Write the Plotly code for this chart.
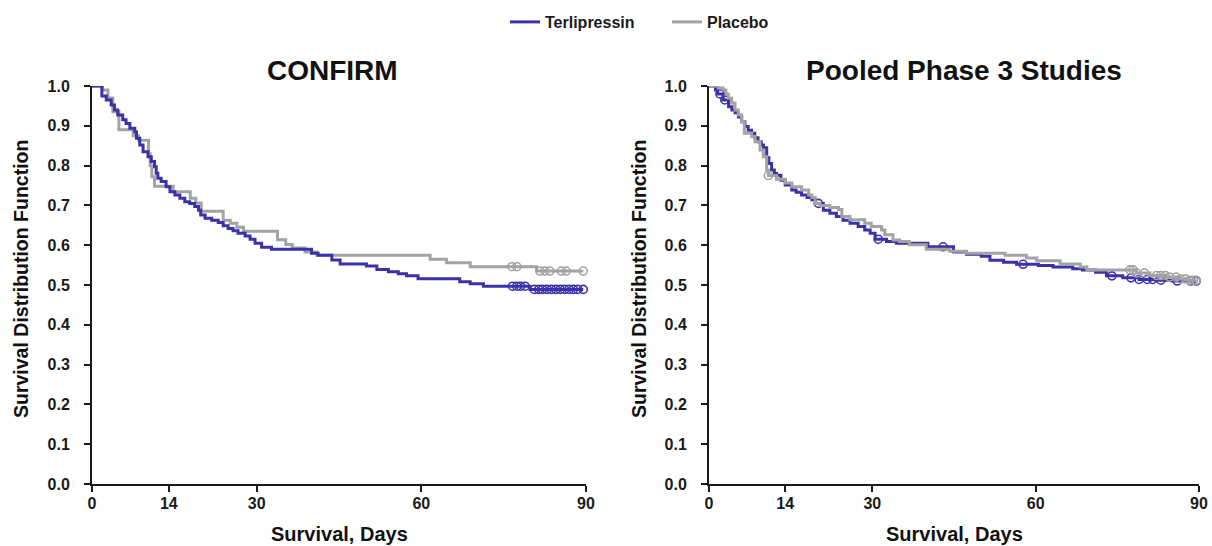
import numpy as np
import plotly.graph_objects as go

# ---------------- data ----------------
x_ticks = [0, 14, 30, 60, 90]
y_ticks = [0.0, 0.1, 0.2, 0.3, 0.4, 0.5, 0.6, 0.7, 0.8, 0.9, 1.0]
panel_titles = ["CONFIRM", "Pooled Phase 3 Studies"]
series_names = ["Terlipressin", "Placebo"]

# CONFIRM - Terlipressin
conf_ter_t = [0, 1.8, 2.6, 3.5, 4.1, 4.7, 5.6, 6.2, 6.9, 7.8, 8.1, 8.7, 9.3, 10.2, 10.8, 11.4, 11.7, 12.0, 12.6, 13.5,
              14.2, 15.1, 16.0, 16.9, 17.8, 18.7, 19.4, 19.8, 20.6, 21.8, 23.0, 23.9, 24.8, 25.7, 26.6, 27.9, 28.8, 29.7,
              30.9, 32.7, 40.0, 41.2, 43.7, 45.2, 50.0, 51.9, 54.0, 55.8, 57.3, 59.4, 67.0, 68.9, 71.3, 79.8]
conf_ter_s = [1.0, .975, .965, .952, .940, .927, .915, .906, .894, .885, .869, .852, .835, .822, .810, .797, .781, .768,
              .760, .747, .734, .726, .718, .709, .705, .697, .688, .676, .668, .663, .657, .649, .642, .636, .630, .623,
              .615, .605, .595, .590, .580, .575, .563, .553, .548, .539, .533, .528, .523, .516, .508, .503, .497, .489]
conf_ter_cens = [76.6, 77.4, 78.1, 78.9, 80.6, 81.4, 82.1, 82.9, 83.7, 84.5, 85.3, 86.1, 86.9, 87.7, 88.5, 89.5]

# CONFIRM - Placebo
conf_pla_t = [0, 1.9, 2.9, 3.8, 4.9, 7.5, 8.5, 10.3, 10.6, 10.9, 11.4, 14.8, 17.9, 18.9, 19.9, 23.9, 25.2, 26.4, 27.6,
              33.8, 35.3, 36.5, 38.8, 41.0, 61.6, 64.6, 68.9, 81.0]
conf_pla_s = [1.0, .99, .97, .935, .89, .875, .864, .83, .80, .772, .748, .734, .718, .706, .685, .663, .655, .645, .635,
              .614, .602, .593, .583, .575, .565, .556, .546, .535]
conf_pla_cens = [76.5, 77.4, 81.6, 82.5, 83.4, 85.5, 86.4, 89.5]

# Pooled - Terlipressin
pool_ter_t = [0, 1.2, 1.6, 2.6, 3.6, 4.2, 4.8, 5.4, 6.0, 6.6, 7.2, 7.8, 8.4, 9.0, 9.6, 10.0, 10.6, 11.0, 11.5, 12.0,
              12.4, 13.2, 14.0, 15.2, 16.0, 17.0, 18.0, 18.9, 19.5, 21.0, 22.2, 23.4, 24.6, 25.9, 27.4, 28.6, 29.6, 30.5,
              32.6, 34.4, 40.2, 44.9, 47.3, 50.0, 51.6, 54.1, 56.5, 60.5, 63.2, 66.8, 68.6, 71.0, 73.0, 76.0, 79.0, 82.0,
              85.0]
pool_ter_s = [1.0, .99, .98, .965, .948, .94, .933, .922, .91, .898, .889, .881, .87, .86, .852, .845, .82, .805, .789,
              .78, .776, .763, .751, .739, .733, .726, .72, .714, .705, .688, .68, .672, .663, .655, .647, .638, .63,
              .615, .609, .605, .596, .583, .577, .572, .562, .557, .552, .549, .545, .541, .538, .532, .523, .518, .514,
              .512, .51]
pool_ter_cens = [2.0, 2.9, 20.1, 31.1, 43.0, 57.7, 74.0, 77.5, 79.0, 80.5, 81.5, 83.0, 86.0, 88.5, 89.5]

# Pooled - Placebo
pool_pla_t = [0, 1.7, 2.6, 3.1, 3.55, 4.16, 4.78, 5.39, 6.0, 6.49, 7.84, 8.45, 9.37, 9.98, 10.6, 10.9, 12.4, 14.0, 15.2,
              17.0, 18.3, 18.9, 19.5, 20.4, 22.2, 23.8, 24.4, 25.9, 28.6, 29.8, 31.7, 32.3, 33.8, 35.0, 36.8, 39.9, 44.2,
              47.3, 54.4, 58.3, 60.2, 64.5, 68.2, 69.4, 78.5, 81.0, 84.0, 86.0, 88.0]
pool_pla_s = [1.0, .995, .99, .98, .969, .957, .94, .927, .91, .881, .873, .86, .839, .822, .789, .775, .766, .756, .747,
              .739, .726, .72, .705, .70, .695, .69, .672, .664, .655, .647, .638, .626, .613, .609, .601, .59, .585,
              .58, .575, .568, .561, .553, .545, .538, .530, .524, .52, .515, .512]
pool_pla_cens = [10.9, 77.3, 77.9, 78.5, 80.0, 82.2, 83.0, 83.8, 84.6, 85.8, 86.6, 87.5, 88.3, 89.0, 89.5]

# ---------------- style ----------------
BLUE = "#3b31a9"
GRAY = "#a3a3a3"
FONT = "Liberation Sans"
W, H = 1212, 546
OFF = 0  # body margin removed via post_script


def step_at(times, surv, t):
    idx = np.searchsorted(np.array(times), np.array(t), side="right") - 1
    return list(np.array(surv)[idx])


def fx(px):
    return (px - OFF) / W


def fy(py):
    return 1 - (py - OFF) / H


fig = go.Figure()


def add_series(times, surv, cens, color, name, xa, ya, show):
    end = max(cens)
    fig.add_trace(go.Scatter(
        x=list(times) + [end], y=list(surv) + [surv[-1]], mode="lines",
        line=dict(color=color, width=3, shape="hv"), name=name, legendgroup=name,
        legendrank=1 if name == series_names[0] else 2,
        showlegend=show, xaxis=xa, yaxis=ya, cliponaxis=False, hoverinfo="skip"))
    fig.add_trace(go.Scatter(
        x=cens, y=step_at(times, surv, cens), mode="markers",
        marker=dict(symbol="circle-open", size=8, color=color, line=dict(width=1.6, color=color)),
        showlegend=False, legendgroup=name, xaxis=xa, yaxis=ya, cliponaxis=False, hoverinfo="skip"))


add_series(conf_pla_t, conf_pla_s, conf_pla_cens, GRAY, series_names[1], "x", "y", True)
add_series(conf_ter_t, conf_ter_s, conf_ter_cens, BLUE, series_names[0], "x", "y", True)
add_series(pool_ter_t, pool_ter_s, pool_ter_cens, BLUE, series_names[0], "x2", "y2", False)
add_series(pool_pla_t, pool_pla_s, pool_pla_cens, GRAY, series_names[1], "x2", "y2", False)

# reference pixel geometry
L1, R1 = 92, 586
L2, R2 = 709, 1199
TOP, BOT = 86, 484
ydom = [fy(BOT), fy(TOP)]

axis_common = dict(showline=True, linecolor="#1a1a1a", linewidth=2, ticks="outside", ticklen=6, tickwidth=2,
                   tickcolor="#1a1a1a", showgrid=False, zeroline=False,
                   tickfont=dict(family=FONT, size=16, color="#1a1a1a", weight="bold"))

xaxis = dict(axis_common, range=[0, 90], tickvals=x_ticks, ticklabelstandoff=-2)
yaxis = dict(axis_common, range=[0, 1.0], tickvals=y_ticks, tickformat=".1f", ticklabelstandoff=11)

fig.update_layout(
    width=W, height=H, margin=dict(l=0, r=0, t=0, b=0, autoexpand=False),
    paper_bgcolor="white", plot_bgcolor="white",
    xaxis=dict(xaxis, domain=[fx(L1), fx(R1)], anchor="y"),
    yaxis=dict(yaxis, domain=ydom, anchor="x"),
    xaxis2=dict(xaxis, domain=[fx(L2), fx(R2)], anchor="y2"),
    yaxis2=dict(yaxis, domain=ydom, anchor="x2"),
    legend=dict(orientation="h", x=fx(505), xanchor="left", y=fy(22), yanchor="middle",
                font=dict(family=FONT, size=16, color="#1a1a1a", weight="bold"),
                bgcolor="rgba(0,0,0,0)", itemwidth=30, entrywidth=117, tracegroupgap=0),
    showlegend=True,
)

ann = []
title_pos = [(332, 70), (964, 70)]
for (px, py), txt in zip(title_pos, panel_titles):
    ann.append(dict(text=f"<b>{txt}</b>", x=fx(px), y=fy(py), xref="paper", yref="paper",
                    xanchor="center", yanchor="middle",
                    showarrow=False, font=dict(family=FONT, size=28, color="#111")))
for cx in [(L1 + R1) / 2, (L2 + R2) / 2]:
    ann.append(dict(text="<b>Survival, Days</b>", x=fx(cx), y=fy(534), xref="paper", yref="paper",
                    xanchor="center", yanchor="middle",
                    showarrow=False, font=dict(family=FONT, size=20, color="#111")))
for cx in [21, 639]:
    ann.append(dict(text="<b>Survival Distribution Function</b>", x=fx(cx), y=fy(279), xref="paper",
                    yref="paper", xanchor="center", yanchor="middle", showarrow=False, textangle=-90,
                    font=dict(family=FONT, size=19.5, color="#111")))
fig.update_layout(annotations=ann)

fig.write_html("out.html", config={"displayModeBar": False},
               post_script="document.body.style.margin='0';document.body.style.overflow='hidden';")
